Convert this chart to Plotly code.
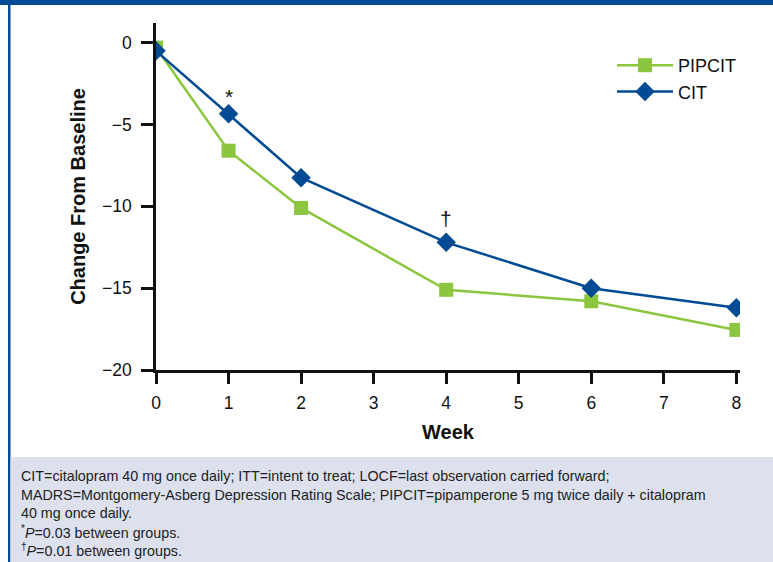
import plotly.graph_objects as go

weeks = [0, 1, 2, 4, 6, 8]
pipcit = [-0.3, -6.6, -10.1, -15.1, -15.8, -17.55]
cit = [-0.5, -4.35, -8.25, -12.2, -15.0, -16.2]
x_ticks = [0, 1, 2, 3, 4, 5, 6, 7, 8]
y_ticks = [0, -5, -10, -15, -20]
sig_weeks = [1, 4]
sig_symbols = ["*", "†"]
footnotes = [
    "CIT=citalopram 40 mg once daily; ITT=intent to treat; LOCF=last observation carried forward;",
    "MADRS=Montgomery-Asberg Depression Rating Scale; PIPCIT=pipamperone 5 mg twice daily + citalopram",
    "40 mg once daily.",
    "<sup>*</sup><i>P</i>=0.03 between groups.",
    "<sup>†</sup><i>P</i>=0.01 between groups.",
]

W, H = 773, 562
L, R, T, B = 156, 33, 23, 192
pw, ph = W - L - R, H - T - B

def px(x):
    return (x - L) / pw

def py(y):
    return 1 - (y - T) / ph

GREEN = "#8cc63f"
BLUE = "#004b93"
FONT = "Liberation Sans"

fig = go.Figure()
fig.add_trace(go.Scatter(x=weeks, y=pipcit, name="PIPCIT", mode="lines+markers",
                         line=dict(color=GREEN, width=2.5),
                         marker=dict(symbol="square", size=14, color=GREEN)))
fig.add_trace(go.Scatter(x=weeks, y=cit, name="CIT", mode="lines+markers",
                         line=dict(color=BLUE, width=2.5),
                         marker=dict(symbol="diamond", size=15, color=BLUE)))

shifts = {"*": 17, "†": 24}
for wk, s in zip(sig_weeks, sig_symbols):
    yv = cit[weeks.index(wk)]
    fig.add_annotation(x=wk, y=yv, text=s, showarrow=False, yshift=shifts[s],
                       font=dict(family=FONT, size=21, color="#111"))

# decorative frame and footnote area
fig.add_shape(type="rect", xref="paper", yref="paper", x0=px(0), x1=px(W), y0=py(0), y1=py(5),
              fillcolor=BLUE, line=dict(width=0), layer="below")
fig.add_shape(type="rect", xref="paper", yref="paper", x0=px(8), x1=px(10.5), y0=py(0), y1=py(H),
              fillcolor=BLUE, line=dict(width=0), layer="below")
fig.add_shape(type="rect", xref="paper", yref="paper", x0=px(10.5), x1=px(W), y0=py(457), y1=py(H),
              fillcolor="#dde1ee", line=dict(width=0), layer="below")

for i, t in enumerate(footnotes):
    fig.add_annotation(xref="paper", yref="paper", x=px(19), y=py(476 + i * 18.5), text=t,
                       xanchor="left", yanchor="middle", showarrow=False, align="left",
                       font=dict(family=FONT, size=14.3, color="#222"))

fig.update_layout(
    width=W, height=H,
    margin=dict(l=L, r=R, t=T, b=B, autoexpand=False),
    paper_bgcolor="white", plot_bgcolor="white",
    font=dict(family=FONT, size=17, color="#111"),
    showlegend=True,
    legend=dict(x=px(612), y=py(47), xanchor="left", yanchor="top",
                font=dict(family=FONT, size=18, color="#111"),
                bgcolor="rgba(0,0,0,0)", itemwidth=56, tracegroupgap=0),
    xaxis=dict(range=[0, 8.05], tickvals=x_ticks, showgrid=False, zeroline=False,
               showline=True, linecolor="#111", linewidth=2.5, ticks="outside",
               ticklen=11, tickwidth=2.5, tickcolor="#111", ticklabelstandoff=4,
               tickfont=dict(size=17.5),
               title=dict(text="<b>Week</b>", font=dict(size=20), standoff=14)),
    yaxis=dict(range=[-20, 1.2], tickvals=y_ticks, showgrid=False, zeroline=False,
               showline=True, linecolor="#111", linewidth=2.5, ticks="outside",
               ticklen=12, tickwidth=2.5, tickcolor="#111", ticklabelstandoff=6,
               tickfont=dict(size=17.5),
               title=dict(text="<b>Change From Baseline</b>", font=dict(size=20), standoff=12)),
)

fig.write_html("out.html", config={"displayModeBar": False},
               post_script="document.body.style.margin='0';document.body.style.overflow='hidden';")
